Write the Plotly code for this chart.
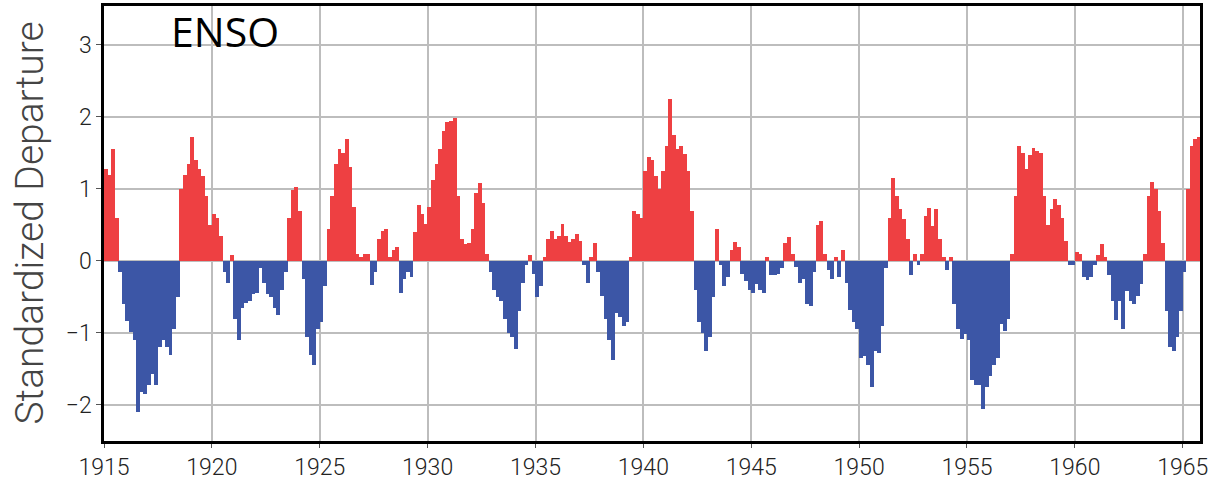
import plotly.graph_objects as go

# ENSO standardized departure, bimonthly values, starting 1915.0
start_year = 1915.0
step = 1.0 / 6.0
v1915 = [1.28, 1.2, 1.55, 0.6, -0.15, -0.6]
v1916 = [-0.83, -0.98, -1.1, -2.1, -1.82, -1.85]
v1917 = [-1.72, -1.57, -1.72, -1.2, -1.1, -1.2]
v1918 = [-1.3, -0.95, -0.5, 1.0, 1.2, 1.35]
v1919 = [1.72, 1.4, 1.28, 1.18, 0.9, 0.5]
v1920 = [0.65, 0.6, 0.35, -0.15, -0.3, 0.08]
v1921 = [-0.8, -1.1, -0.65, -0.58, -0.55, -0.46]
v1922 = [-0.45, -0.1, -0.3, -0.46, -0.5, -0.65]
v1923 = [-0.75, -0.4, -0.15, 0.6, 0.98, 1.02]
v1924 = [0.7, -0.25, -1.05, -1.3, -1.45, -0.95]
v1925 = [-0.85, -0.35, 0.45, 0.9, 1.35, 1.55]
v1926 = [1.5, 1.7, 1.3, 0.75, 0.1, 0.05]
v1927 = [0.1, 0.1, -0.33, -0.15, 0.3, 0.42]
v1928 = [0.45, 0.05, 0.15, 0.2, -0.45, -0.25]
v1929 = [-0.15, -0.22, 0.4, 0.78, 0.65, 0.52]
v1930 = [0.75, 1.12, 1.35, 1.55, 1.8, 1.93]
v1931 = [1.95, 1.98, 0.9, 0.3, 0.23, 0.25]
v1932 = [0.45, 0.95, 1.08, 0.8, 0.1, -0.15]
v1933 = [-0.4, -0.5, -0.55, -0.8, -1.0, -1.05]
v1934 = [-1.22, -0.7, -0.3, -0.05, 0.08, -0.18]
v1935 = [-0.5, -0.35, 0.05, 0.3, 0.42, 0.3]
v1936 = [0.35, 0.52, 0.35, 0.26, 0.3, 0.38]
v1937 = [0.28, -0.05, -0.3, 0.05, 0.25, -0.15]
v1938 = [-0.48, -0.8, -1.1, -1.38, -0.72, -0.78]
v1939 = [-0.9, -0.85, 0.05, 0.7, 0.65, 0.6]
v1940 = [1.25, 1.45, 1.4, 1.18, 1.0, 1.25]
v1941 = [1.6, 2.25, 1.75, 1.56, 1.6, 1.48]
v1942 = [1.25, 0.7, -0.4, -0.85, -1.0, -1.25]
v1943 = [-1.05, -0.5, 0.45, -0.05, -0.35, -0.22]
v1944 = [0.15, 0.26, 0.2, -0.18, -0.28, -0.4]
v1945 = [-0.45, -0.32, -0.4, -0.45, 0.05, -0.2]
v1946 = [-0.2, -0.18, -0.1, 0.25, 0.33, 0.1]
v1947 = [-0.08, -0.3, -0.25, -0.6, -0.62, -0.15]
v1948 = [0.5, 0.55, 0.1, -0.12, -0.25, 0.05]
v1949 = [-0.22, 0.15, -0.3, -0.68, -0.85, -0.95]
v1950 = [-1.35, -1.32, -1.45, -1.75, -1.25, -1.28]
v1951 = [-0.9, -0.1, 0.6, 1.15, 0.9, 0.72]
v1952 = [0.58, 0.3, -0.2, 0.1, -0.05, 0.1]
v1953 = [0.62, 0.74, 0.48, 0.72, 0.3, 0.05]
v1954 = [-0.12, 0.05, -0.6, -0.95, -1.08, -1.02]
v1955 = [-1.1, -1.65, -1.72, -1.72, -2.05, -1.75]
v1956 = [-1.6, -1.45, -1.35, -0.88, -0.97, -0.8]
v1957 = [0.1, 0.9, 1.6, 1.5, 1.28, 1.47]
v1958 = [1.57, 1.52, 1.5, 0.9, 0.5, 0.72]
v1959 = [0.86, 0.78, 0.6, 0.28, -0.05, -0.05]
v1960 = [0.12, 0.1, -0.22, -0.26, -0.22, -0.05]
v1961 = [0.08, 0.24, 0.05, -0.2, -0.55, -0.82]
v1962 = [-0.55, -0.95, -0.42, -0.55, -0.6, -0.48]
v1963 = [-0.32, 0.1, 0.9, 1.1, 1.0, 0.7]
v1964 = [0.25, -0.7, -1.2, -1.25, -1.06, -0.7]
v1965 = [-0.15, 1.0, 1.6, 1.7, 1.72]

tick_years = [1915, 1920, 1925, 1930, 1935, 1940, 1945, 1950, 1955, 1960, 1965]
tick_labels = [str(y) for y in tick_years]
y_ticks = [-2, -1, 0, 1, 2, 3]

values = (v1915 + v1916 + v1917 + v1918 + v1919 + v1920 + v1921 + v1922 + v1923 + v1924
          + v1925 + v1926 + v1927 + v1928 + v1929 + v1930 + v1931 + v1932 + v1933 + v1934
          + v1935 + v1936 + v1937 + v1938 + v1939 + v1940 + v1941 + v1942 + v1943 + v1944
          + v1945 + v1946 + v1947 + v1948 + v1949 + v1950 + v1951 + v1952 + v1953 + v1954
          + v1955 + v1956 + v1957 + v1958 + v1959 + v1960 + v1961 + v1962 + v1963 + v1964
          + v1965)
xs = [start_year + (i + 0.5) * step for i in range(len(values))]

RED = "#EE4042"
BLUE = "#3C56A6"
colors = [RED if v >= 0 else BLUE for v in values]

fig = go.Figure(go.Bar(x=xs, y=values, width=step * 1.08,
                       marker=dict(color=colors, line=dict(width=0))))

tick_font = dict(family="Roboto, Liberation Sans, sans-serif", size=23, color="#222222", weight=300)

fig.update_layout(
    width=1214, height=486,
    margin=dict(l=104, r=14, t=6, b=45),
    paper_bgcolor="white", plot_bgcolor="white",
    bargap=0, showlegend=False,
    xaxis=dict(range=[1915, 1965.8], tickvals=tick_years, ticktext=tick_labels, automargin=False,
               showgrid=True, gridcolor="#BDBDBD", gridwidth=1.5,
               showline=True, linecolor="black", linewidth=2.5, mirror=True,
               ticks="outside", ticklen=4, tickcolor="#555555", tickfont=tick_font, zeroline=False),
    yaxis=dict(range=[-2.5, 3.54], tickvals=y_ticks, automargin=False,
               showgrid=True, gridcolor="#BDBDBD", gridwidth=1.5,
               showline=True, linecolor="black", linewidth=2.5, mirror=True,
               ticks="outside", ticklen=5, tickcolor="#555555", tickfont=tick_font, zeroline=False),
    annotations=[
        dict(text="ENSO", xref="paper", yref="paper", x=(169 - 104) / 1096, y=1 + 5 / 435,
             xanchor="left", yanchor="top", showarrow=False,
             font=dict(family="Open Sans", size=41, color="black")),
        dict(text="Standardized Departure", xref="paper", yref="paper",
             x=-(104 - 29) / 1096, y=0.5, xanchor="center", yanchor="middle",
             textangle=-90, showarrow=False,
             font=dict(family="Roboto, Liberation Sans, sans-serif", size=39, color="#444444", weight=300)),
    ],
)

fig.write_html("out.html", config={"displayModeBar": False},
               post_script="document.body.style.margin='0';")
